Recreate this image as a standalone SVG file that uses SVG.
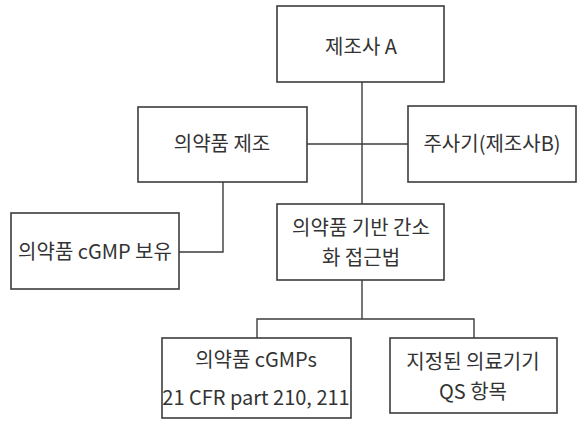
<svg xmlns="http://www.w3.org/2000/svg" width="587" height="430" viewBox="0 0 587 430">
<style>
.box{fill:#fff;stroke:#3c3c3c;stroke-width:1.6}
.ln{fill:none;stroke:#3c3c3c;stroke-width:1.4}
text{font-family:"Noto Sans CJK KR","Noto Sans",sans-serif;font-size:20px;fill:#333;text-anchor:middle}
</style>
<rect width="587" height="430" fill="#fff"/>
<g id="connectors">
<path class="ln" d="M362 82V204"/>
<path class="ln" d="M307 144H408"/>
<path class="ln" d="M223 182V252H179"/>
<path class="ln" d="M362 280V319"/>
<path class="ln" d="M257 338V319H474V338"/>
</g>
<g id="n-manufacturer-a">
<rect class="box" x="277" y="6" width="167" height="76"/>
<text x="361" y="54">제조사 A</text>
</g>
<g id="n-drug-manufacturing">
<rect class="box" x="138" y="107" width="169" height="75"/>
<text x="222" y="151">의약품 제조</text>
</g>
<g id="n-syringe">
<rect class="box" x="408" y="106" width="168" height="76"/>
<text x="492" y="151">주사기(제조사B)</text>
</g>
<g id="n-cgmp-hold">
<rect class="box" x="11" y="213" width="168" height="76"/>
<text x="95" y="259">의약품 cGMP 보유</text>
</g>
<g id="n-approach">
<rect class="box" x="277" y="204" width="167" height="76"/>
<text x="361" y="235">의약품 기반 간소</text>
<text x="361" y="265">화 접근법</text>
</g>
<g id="n-drug-cgmps">
<rect class="box" x="162" y="338" width="189" height="80"/>
<text x="256" y="367">의약품 cGMPs</text>
<text x="256" y="405">21 CFR part 210, 211</text>
</g>
<g id="n-device-qs">
<rect class="box" x="390" y="338" width="167" height="75"/>
<text x="473" y="369">지정된 의료기기</text>
<text x="473" y="399">QS 항목</text>
</g>
</svg>
